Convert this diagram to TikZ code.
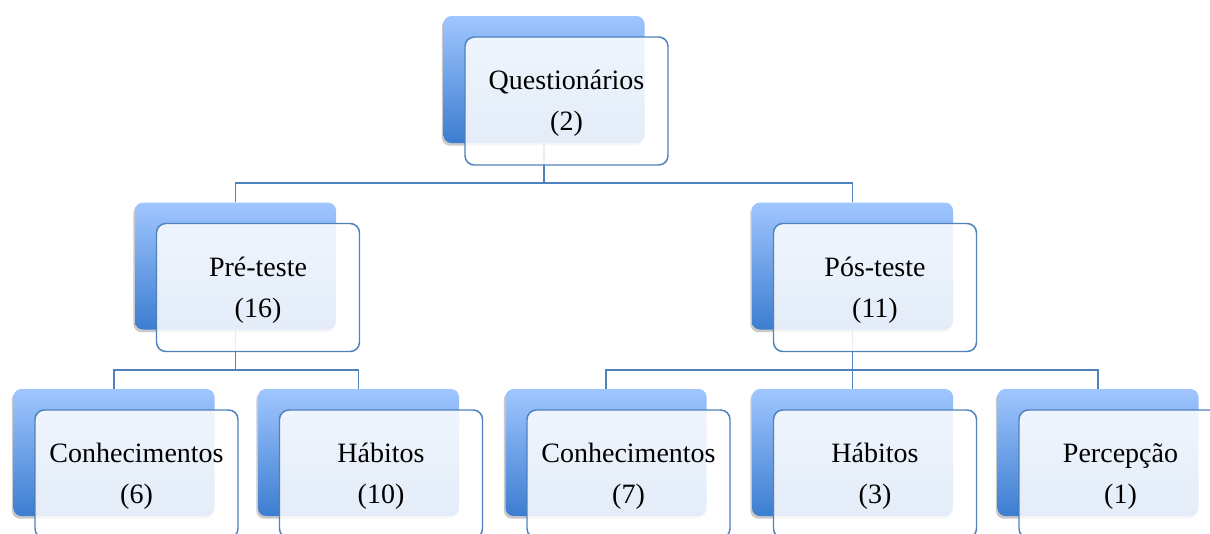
\documentclass[tikz,border=0pt]{standalone}
\usepackage{fontspec}
\setmainfont{Liberation Serif}
\usetikzlibrary{shadows}
\definecolor{bluetop}{RGB}{160,198,255}
\definecolor{bluebot}{RGB}{60,125,208}
\definecolor{edgeblue}{RGB}{79,129,189}
\pgfdeclarelayer{bg}
\pgfsetlayers{bg,main}
\begin{document}
\begin{tikzpicture}[x=0.75pt,y=0.75pt,
 backbox/.style={rectangle, rounded corners=6pt, minimum width=150.75pt, minimum height=95.25pt,
   top color=bluetop, bottom color=bluebot, draw=none,
   drop shadow={shadow xshift=-1.2pt, shadow yshift=-2pt, opacity=0.3, fill=black!70}},
 frontbox/.style={rectangle, rounded corners=7pt, minimum width=152.25pt, minimum height=96pt,
   draw=edgeblue, line width=1.1pt, fill=white, fill opacity=0.86, text opacity=1,
   inner sep=0pt,
   label={[align=center, inner sep=0pt, text opacity=1, fill opacity=1, yshift=-2pt,
           font=\fontsize{21}{30.75}\selectfont]center:#1}},
 link/.style={draw=edgeblue, line width=1.2pt}]
\useasboundingbox (0,0) rectangle (1210,-533);
\clip (0,0) rectangle (1210,-533);

% top
\node[backbox] (qb) at (544,-79.5) {};
\node[frontbox={Questionários\\(2)}] (qf) at (566.5,-101) {};

% level 2
\node[backbox] (preb) at (235.5,-266) {};
\node[frontbox={Pré-teste\\(16)}] (pref) at (258,-287.5) {};
\node[backbox] (posb) at (852.5,-266) {};
\node[frontbox={Pós-teste\\(11)}] (posf) at (875,-287.5) {};

% level 3
\node[backbox] (c6b) at (114,-452.5) {};
\node[frontbox={Conhecimentos\\(6)}] (c6f) at (136.5,-474) {};
\node[backbox] (h10b) at (358.5,-452.5) {};
\node[frontbox={Hábitos\\(10)}] (h10f) at (381,-474) {};
\node[backbox] (c7b) at (606,-452.5) {};
\node[frontbox={Conhecimentos\\(7)}] (c7f) at (628.5,-474) {};
\node[backbox] (h3b) at (852.5,-452.5) {};
\node[frontbox={Hábitos\\(3)}] (h3f) at (875,-474) {};
\node[backbox] (p1b) at (1098,-452.5) {};
\node[frontbox={Percepção\\(1)}] (p1f) at (1120.5,-474) {};

\begin{pgfonlayer}{bg}
\draw[link] (qb.south) -- ++(0,-40) -| (preb.north);
\draw[link] (qb.south) -- ++(0,-40) -| (posb.north);
\draw[link] (preb.south) -- ++(0,-40.5) -| (c6b.north);
\draw[link] (preb.south) -- ++(0,-40.5) -| (h10b.north);
\draw[link] (posb.south) -- ++(0,-40.5) -| (c7b.north);
\draw[link] (posb.south) -- ++(0,-40.5) -| (h3b.north);
\draw[link] (posb.south) -- ++(0,-40.5) -| (p1b.north);
\end{pgfonlayer}
\end{tikzpicture}
\end{document}
